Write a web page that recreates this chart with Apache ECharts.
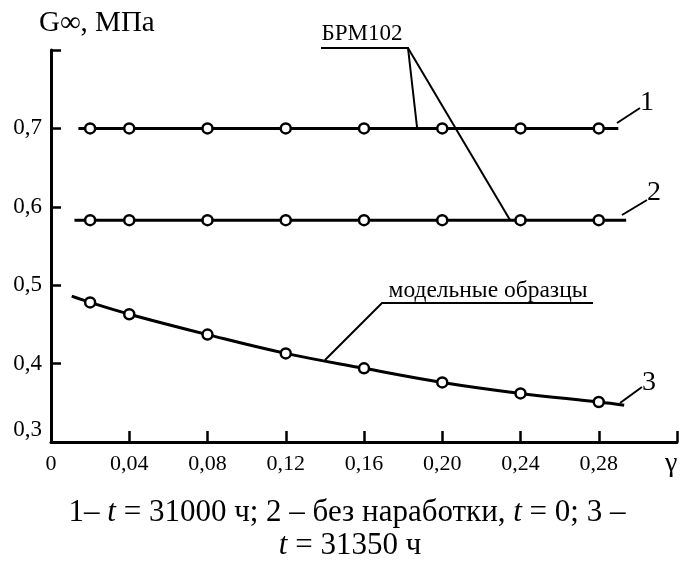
<!DOCTYPE html>
<html>
<head>
<meta charset="utf-8">
<script src="https://cdn.jsdelivr.net/npm/echarts@6/dist/echarts.min.js"></script>
<style>
  html, body { margin: 0; padding: 0; background: #fff; }
  #chart { width: 680px; height: 563px; }
</style>
</head>
<body>
<div id="chart"></div>
<script>
// точки измерений (γ) и значения G∞, МПа
const gammaPts = [0.02, 0.04, 0.08, 0.12, 0.16, 0.20, 0.24, 0.28];
const g1 = [0.70, 0.70, 0.70, 0.70, 0.70, 0.70, 0.70, 0.70];
const g2 = [0.583, 0.583, 0.583, 0.583, 0.583, 0.583, 0.583, 0.583];
const g3 = [0.478, 0.463, 0.437, 0.413, 0.394, 0.376, 0.362, 0.351];

// концы линий (без маркеров)
const line1Ends = [[0.014, 0.70], [0.290, 0.70]];
const line2Ends = [[0.012, 0.583], [0.294, 0.583]];
const line3Ends = [[0.0106, 0.486], [0.293, 0.347]];

const yTicks = [0.3, 0.4, 0.5, 0.6, 0.7];

const FONT = '"Liberation Serif", "Times New Roman", serif';
const BLACK = '#000';

const pts = (ys) => gammaPts.map((x, i) => [x, ys[i]]);
const withEnds = (ys, ends) => [ends[0]].concat(pts(ys), [ends[1]]);

const fmtX = (v) => {
  const r = Math.round(v * 100);
  if (r === 0) return '0';
  if (r === 32) return '';
  return (r / 100).toFixed(2).replace('.', ',');
};
const fmtY = (v) => {
  const r = Math.round(v * 10) / 10;
  if (yTicks.indexOf(r) < 0) return '';
  const s = r.toFixed(1).replace('.', ',');
  return r === 0.3 ? '{low|' + s + '}' : s;
};

const lineSeries = (data, smooth) => ({
  type: 'line',
  data: data,
  smooth: smooth,
  showSymbol: false,
  symbol: 'none',
  lineStyle: { color: BLACK, width: 3 },
  silent: true,
  z: 2
});
const markerSeries = (ys) => ({
  type: 'scatter',
  data: pts(ys),
  symbol: 'circle',
  symbolSize: 10,
  itemStyle: { color: '#fff', borderColor: BLACK, borderWidth: 2.5, opacity: 1 },
  z: 3
});

const chart = echarts.init(document.getElementById('chart'));
chart.setOption({
  animation: false,
  backgroundColor: '#fff',
  grid: { left: 51, right: 0, top: 50, bottom: 121 },
  xAxis: {
    type: 'value',
    min: 0, max: 0.32, interval: 0.04,
    splitLine: { show: false },
    axisLine: { lineStyle: { color: BLACK, width: 3 } },
    axisTick: { inside: true, length: 11, lineStyle: { color: BLACK, width: 2.5 } },
    axisLabel: {
      formatter: fmtX, color: BLACK, fontFamily: FONT, fontSize: 22, margin: 11,
      showMinLabel: true, showMaxLabel: true
    }
  },
  yAxis: {
    type: 'value',
    min: 0.3, max: 0.8, interval: 0.1,
    splitLine: { show: false },
    axisLine: { onZero: false, lineStyle: { color: BLACK, width: 3 } },
    axisTick: { inside: true, length: 10, lineStyle: { color: BLACK, width: 2.5 } },
    axisLabel: {
      formatter: fmtY, color: BLACK, fontFamily: FONT, fontSize: 23, margin: 9,
      showMinLabel: true, showMaxLabel: true,
      rich: { low: { fontFamily: FONT, fontSize: 23, color: BLACK, padding: [0, 0, 24, 0] } }
    }
  },
  series: [
    lineSeries(withEnds(g1, line1Ends), false),
    lineSeries(withEnds(g2, line2Ends), false),
    lineSeries(withEnds(g3, line3Ends), 0.4),
    markerSeries(g1),
    markerSeries(g2),
    markerSeries(g3)
  ],
  graphic: [
    { type: 'text', left: 39, top: 9,
      style: { text: 'G∞, МПа', font: '29px ' + FONT, fill: BLACK } },
    { type: 'text', x: 665, y: 450,
      style: { text: 'γ', font: '28px ' + FONT, fill: BLACK } },

    // БРМ102
    { type: 'text', x: 362, y: 34,
      style: { text: 'БРМ102', font: '23px ' + FONT, fill: BLACK, align: 'center', verticalAlign: 'middle' } },
    { type: 'polyline', shape: { points: [[321, 48], [408, 48], [417, 127]] },
      style: { stroke: BLACK, lineWidth: 2, fill: null } },
    { type: 'line', shape: { x1: 408, y1: 48, x2: 510, y2: 220 },
      style: { stroke: BLACK, lineWidth: 2 } },

    // модельные образцы
    { type: 'text', x: 488, y: 291,
      style: { text: 'модельные образцы', font: '23.5px ' + FONT, fill: BLACK, align: 'center', verticalAlign: 'middle' } },
    { type: 'polyline', shape: { points: [[593, 303], [382, 303], [325, 360]] },
      style: { stroke: BLACK, lineWidth: 2, fill: null } },

    // номера кривых
    { type: 'line', shape: { x1: 617, y1: 123, x2: 640, y2: 108 }, style: { stroke: BLACK, lineWidth: 2 } },
    { type: 'text', x: 647, y: 103,
      style: { text: '1', font: '28px ' + FONT, fill: BLACK, align: 'center', verticalAlign: 'middle' } },
    { type: 'line', shape: { x1: 622, y1: 215, x2: 647, y2: 200 }, style: { stroke: BLACK, lineWidth: 2 } },
    { type: 'text', x: 654, y: 193,
      style: { text: '2', font: '28px ' + FONT, fill: BLACK, align: 'center', verticalAlign: 'middle' } },
    { type: 'line', shape: { x1: 620, y1: 403, x2: 642, y2: 387 }, style: { stroke: BLACK, lineWidth: 2 } },
    { type: 'text', x: 649, y: 383,
      style: { text: '3', font: '28px ' + FONT, fill: BLACK, align: 'center', verticalAlign: 'middle' } },

    // подпись
    { type: 'text', x: 347, y: 513,
      style: {
        text: '{a|1– }{i|t}{a| = 31000 ч; 2 – без наработки, }{i|t}{a| = 0; 3 –}',
        align: 'center', verticalAlign: 'middle',
        rich: {
          a: { font: '31px ' + FONT, fill: BLACK },
          i: { font: 'italic 31px ' + FONT, fill: BLACK }
        }
      } },
    { type: 'text', x: 350, y: 546,
      style: {
        text: '{i|t}{a| = 31350 ч}',
        align: 'center', verticalAlign: 'middle',
        rich: {
          a: { font: '31px ' + FONT, fill: BLACK },
          i: { font: 'italic 31px ' + FONT, fill: BLACK }
        }
      } }
  ]
});
</script>
</body>
</html>
